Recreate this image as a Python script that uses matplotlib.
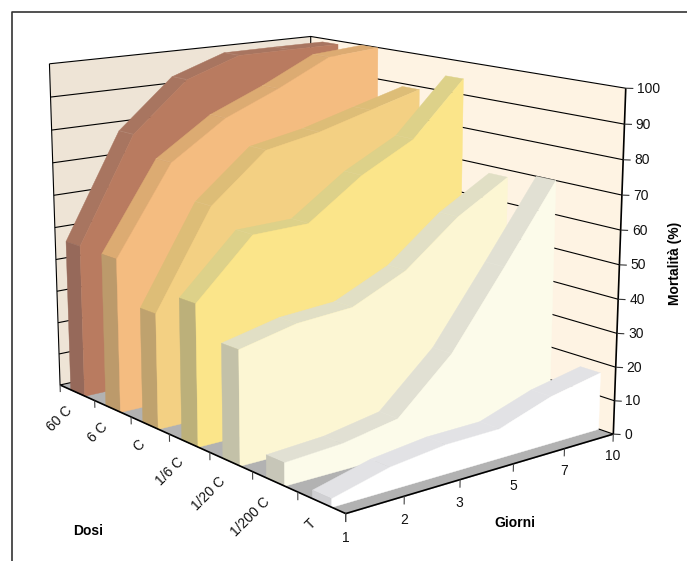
import numpy as np
import matplotlib
matplotlib.use("Agg")
import matplotlib.pyplot as plt
from matplotlib.lines import Line2D
from mpl_toolkits.mplot3d import proj3d
from mpl_toolkits.mplot3d.art3d import Poly3DCollection

plt.rcParams['font.family'] = ['Liberation Sans', 'DejaVu Sans']

giorni = ['1', '2', '3', '5', '7', '10']
dosi = ['60 C', '6 C', 'C', '1/6 C', '1/20 C', '1/200 C', 'T']
mort_60c = [46.9, 78.5, 93.2, 98.9, 99.0, 99.0]
mort_6c = [46.8, 72.9, 84.0, 90.9, 98.8, 100.0]
mort_c = [34.6, 63.2, 77.2, 80.3, 84.8, 89.2]
mort_16c = [41.8, 58.4, 58.8, 70.3, 78.7, 94.9]
mort_120c = [33.2, 37.0, 38.2, 45.7, 58.6, 67.9]
mort_1200c = [6.6, 7.6, 10.5, 25.5, 47.5, 70.1]
mort_t = [2.4, 6.5, 8.4, 8.6, 13.9, 17.0]
serie = [mort_60c, mort_6c, mort_c, mort_16c, mort_120c, mort_1200c, mort_t]

# front, top, side colours of every slab
col_front = ['#b97b60', '#f4bc80', '#f3d083', '#fbe58a', '#fcf6d3', '#fcfbea', '#ffffff']
col_top = ['#a87560', '#dcab72', '#ddbd77', '#ddd189', '#e1dfc5', '#e1e0d3', '#e2e2e5']
col_side = ['#96695a', '#bc9a6b', '#bfa26e', '#bcb07a', '#c3c1a8', '#c7c6b8', '#d0d0d3']

W, H = 687, 561
fig = plt.figure(figsize=(W / 100, H / 100), dpi=100, facecolor='white')
ax = fig.add_axes([139.01 / W, 128.53 / H, 364.22 / W, 364.22 / H], projection='3d', computed_zorder=False)
ax.set_proj_type('persp')
ax.view_init(elev=13.537, azim=-128.809)
ax.set_box_aspect((0.7116, 1, 0.7176), zoom=1.8083)
ax.set_xlim(0, 5)
ax.set_ylim(0, 7)
ax.set_zlim(0, 100)
ax.set_axis_off()

nz = [1]


def poly(pts, color):
    p = Poly3DCollection([pts], facecolors=color, edgecolors=color, linewidths=0.3, zorder=nz[0])
    ax.add_collection3d(p, autolim=False)
    p.set_clip_on(False)
    nz[0] += 1


def line(xs, ys, zs, lw=0.8, color='black', alpha=1):
    ax.plot(xs, ys, zs, color=color, lw=lw, alpha=alpha, clip_on=False, zorder=nz[0], solid_capstyle='butt')
    nz[0] += 1


def label(x, y, z, s, **kw):
    # 3d text ignores rotation, so place it through the projection
    px, py, _ = proj3d.proj_transform(x, y, z, ax.get_proj())
    ax.text2D(px, py, s, transform=ax.transData, fontsize=10, color='#111111', **kw)


# walls and floor
poly([(0, 7, 0), (5, 7, 0), (5, 7, 100), (0, 7, 100)], '#eee4d6')
poly([(5, 7, 0), (5, 0, 0), (5, 0, 100), (5, 7, 100)], '#fef3e3')
poly([(0, 0, 0), (5, 0, 0), (5, 7, 0), (0, 7, 0)], '#b2b2b2')

for v in range(10, 101, 10):
    line([0, 5, 5], [7, 7, 0], [v, v, v])
line([0, 5, 5], [7, 7, 0], [0, 0, 0])
line([0, 0], [7, 7], [0, 100])
line([5, 5], [7, 7], [0, 100])

# slabs, back to front
for i, vals in enumerate(serie):
    y0 = 7 - i - 1 + 0.3
    y1 = y0 + 0.4
    for j in range(5):
        poly([(j, y0, vals[j]), (j + 1, y0, vals[j + 1]), (j + 1, y1, vals[j + 1]), (j, y1, vals[j])], col_top[i])
    for j in range(1, 5):
        line([j, j], [y0, y1], [vals[j], vals[j]], lw=0.3, color='white', alpha=0.15)
    poly([(0, y0, 0), (0, y1, 0), (0, y1, vals[0]), (0, y0, vals[0])], col_side[i])
    poly([(j, y0, vals[j]) for j in range(6)] + [(5, y0, 0), (0, y0, 0)], col_front[i])

# axes
line([0, 5], [0, 0], [0, 0], lw=1.2)
line([0, 0], [0, 7], [0, 0], lw=1.2)
line([5, 5], [0, 0], [0, 100], lw=1.2)

for v in range(0, 101, 10):
    line([5, 5.067], [0, -0.079], [v, v], lw=0.8, color='#333333')
    label(5.1, -0.119, v, str(v), ha='left', va='center')
for j, g in enumerate(giorni):
    line([j, j], [0, 0], [0, -2.3], color='#444444')
    label(j, 0, -6.6, g, ha='center', va='center')
for k in range(8):
    line([0, 0], [k, k], [0, -2.3], color='#444444')
for i, d in enumerate(dosi):
    label(-0.13, 7 - i - 0.5, -4.5, d, ha='right', va='center', rotation=45, rotation_mode='anchor')

fig.text(88 / W, 1 - 531 / H, 'Dosi', ha='center', va='center', fontsize=10, fontweight='bold')
fig.text(515 / W, 1 - 523 / H, 'Giorni', ha='center', va='center', fontsize=10, fontweight='bold')
fig.text(675 / W, 1 - 263 / H, 'Mortalità (%)', ha='center', va='center', rotation=90, fontsize=10, fontweight='bold')

# outer frame, only top and left are inside the picture
fig.add_artist(Line2D([11.5 / W, 11.5 / W, 1], [0, 1 - 11.5 / H, 1 - 11.5 / H], color='#333333', lw=1.2))

fig.savefig('out.png', dpi=100)
